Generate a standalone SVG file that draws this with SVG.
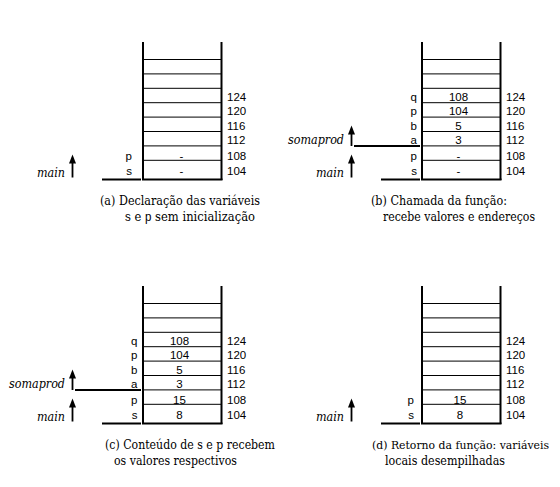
<svg xmlns="http://www.w3.org/2000/svg" width="560" height="487" viewBox="0 0 560 487">
<style>
.wall{stroke:#000;stroke-width:2;fill:none}
.row{stroke:#000;stroke-width:1;fill:none}
.base{stroke:#000;stroke-width:2;fill:none}
.t{font-size:11.5px;fill:#000}
.v{font-size:11.5px;fill:#000;text-anchor:middle}
.n{font-size:11.5px;fill:#000;text-anchor:end}
.fn{font-style:italic;font-size:12px;fill:#000;text-anchor:end}
.cap{font-size:12.2px;fill:#000}
.cap2{font-size:11.4px;fill:#000}
.arr{stroke:#000;stroke-width:1.8;fill:none}
</style>
<defs>
<g id="stack" font-family="'Liberation Sans', Arial, sans-serif">
<line class="wall" x1="143" y1="42" x2="143" y2="180"/>
<line class="wall" x1="221.5" y1="42" x2="221.5" y2="180"/>
<line class="row" x1="143" y1="59.5" x2="221.5" y2="59.5"/>
<line class="row" x1="143" y1="73.9" x2="221.5" y2="73.9"/>
<line class="row" x1="143" y1="88.3" x2="221.5" y2="88.3"/>
<line class="row" x1="143" y1="102.7" x2="221.5" y2="102.7"/>
<line class="row" x1="143" y1="117.1" x2="221.5" y2="117.1"/>
<line class="row" x1="143" y1="131.5" x2="221.5" y2="131.5"/>
<line class="row" x1="143" y1="145.9" x2="221.5" y2="145.9"/>
<line class="row" x1="143" y1="160.3" x2="221.5" y2="160.3"/>
<line class="wall" x1="142" y1="179.5" x2="222.5" y2="179.5"/>
<text class="t" x="227" y="100.5">124</text>
<text class="t" x="227" y="115">120</text>
<text class="t" x="227" y="129.5">116</text>
<text class="t" x="227" y="144">112</text>
<text class="t" x="227" y="159.5">108</text>
<text class="t" x="227" y="174.5">104</text>
</g>
<g id="mainmark">
<text class="fn" x="65" y="177" font-family="'DejaVu Serif', serif" textLength="28" lengthAdjust="spacingAndGlyphs">main</text>
<line class="arr" x1="72.5" y1="177.5" x2="72.5" y2="161"/>
<polygon points="69,163.5 72.5,154.5 76,163.5" fill="#000"/>
<line class="base" x1="102" y1="179.5" x2="141" y2="179.5"/>
</g>
<g id="somamark">
<text class="fn" x="65" y="143.5" font-family="'DejaVu Serif', serif" textLength="56" lengthAdjust="spacingAndGlyphs">somaprod</text>
<line class="arr" x1="72.5" y1="146" x2="72.5" y2="132"/>
<polygon points="69,134.5 72.5,125.5 76,134.5" fill="#000"/>
<line class="base" x1="75" y1="146" x2="141" y2="146"/>
</g>
</defs>

<g id="panel-a">
<g id="stack-a"><use href="#stack"/></g>
<g id="vars-a" font-family="'Liberation Sans', Arial, sans-serif">
<text class="n" x="132" y="159.5">p</text><text class="v" x="181.5" y="159.5">-</text>
<text class="n" x="132" y="174.5">s</text><text class="v" x="181.5" y="174.5">-</text>
</g>
<g id="connectors-a"><use href="#mainmark"/></g>
<g id="caption-a" font-family="'DejaVu Serif', serif">
<text class="cap" x="100" y="204.5" textLength="160" lengthAdjust="spacingAndGlyphs">(a) Declaração das variáveis</text>
<text class="cap" x="125" y="221" textLength="130" lengthAdjust="spacingAndGlyphs"><tspan font-family="'Liberation Sans', Arial, sans-serif">s</tspan> e <tspan font-family="'Liberation Sans', Arial, sans-serif">p</tspan> sem inicialização</text>
</g>
</g>

<g id="panel-b" transform="translate(279,0)">
<g id="stack-b"><use href="#stack"/></g>
<g id="vars-b" font-family="'Liberation Sans', Arial, sans-serif">
<text class="n" x="138" y="100.5">q</text><text class="v" x="179.5" y="100.5">108</text>
<text class="n" x="138" y="115">p</text><text class="v" x="179.5" y="115">104</text>
<text class="n" x="138" y="129.5">b</text><text class="v" x="179.5" y="129.5">5</text>
<text class="n" x="138" y="144">a</text><text class="v" x="179.5" y="144">3</text>
<text class="n" x="138" y="159.5">p</text><text class="v" x="179.5" y="159.5">-</text>
<text class="n" x="138" y="174.5">s</text><text class="v" x="179.5" y="174.5">-</text>
</g>
<g id="connectors-b"><use href="#somamark"/><use href="#mainmark"/></g>
<g id="caption-b" font-family="'DejaVu Serif', serif">
<text class="cap" x="92" y="204.5" textLength="136" lengthAdjust="spacingAndGlyphs">(b) Chamada da função:</text>
<text class="cap" x="104" y="221" textLength="152" lengthAdjust="spacingAndGlyphs">recebe valores e endereços</text>
</g>
</g>

<g id="panel-c" transform="translate(0,244)">
<g id="stack-c"><use href="#stack"/></g>
<g id="vars-c" font-family="'Liberation Sans', Arial, sans-serif">
<text class="n" x="137.5" y="100.5">q</text><text class="v" x="179.5" y="100.5">108</text>
<text class="n" x="137.5" y="115">p</text><text class="v" x="179.5" y="115">104</text>
<text class="n" x="137.5" y="129.5">b</text><text class="v" x="179.5" y="129.5">5</text>
<text class="n" x="137.5" y="144">a</text><text class="v" x="179.5" y="144">3</text>
<text class="n" x="137.5" y="159.5">p</text><text class="v" x="179.5" y="159.5">15</text>
<text class="n" x="137.5" y="174.5">s</text><text class="v" x="179.5" y="174.5">8</text>
</g>
<g id="connectors-c"><use href="#somamark"/><use href="#mainmark"/></g>
<g id="caption-c" font-family="'DejaVu Serif', serif">
<text class="cap" x="105" y="204.5" textLength="170" lengthAdjust="spacingAndGlyphs">(c) Conteúdo de s e p recebem</text>
<text class="cap" x="114" y="221" textLength="123" lengthAdjust="spacingAndGlyphs">os valores respectivos</text>
</g>
</g>

<g id="panel-d" transform="translate(279,244)">
<g id="stack-d"><use href="#stack"/></g>
<g id="vars-d" font-family="'Liberation Sans', Arial, sans-serif">
<text class="n" x="135" y="159.5">p</text><text class="v" x="181" y="159.5">15</text>
<text class="n" x="135" y="174.5">s</text><text class="v" x="181" y="174.5">8</text>
</g>
<g id="connectors-d"><use href="#mainmark"/></g>
<g id="caption-d" font-family="'DejaVu Serif', serif">
<text class="cap2" x="93" y="204.5" textLength="177" lengthAdjust="spacingAndGlyphs">(d) Retorno da função: variáveis</text>
<text class="cap" x="106" y="221" textLength="120" lengthAdjust="spacingAndGlyphs">locais desempilhadas</text>
</g>
</g>
</svg>
